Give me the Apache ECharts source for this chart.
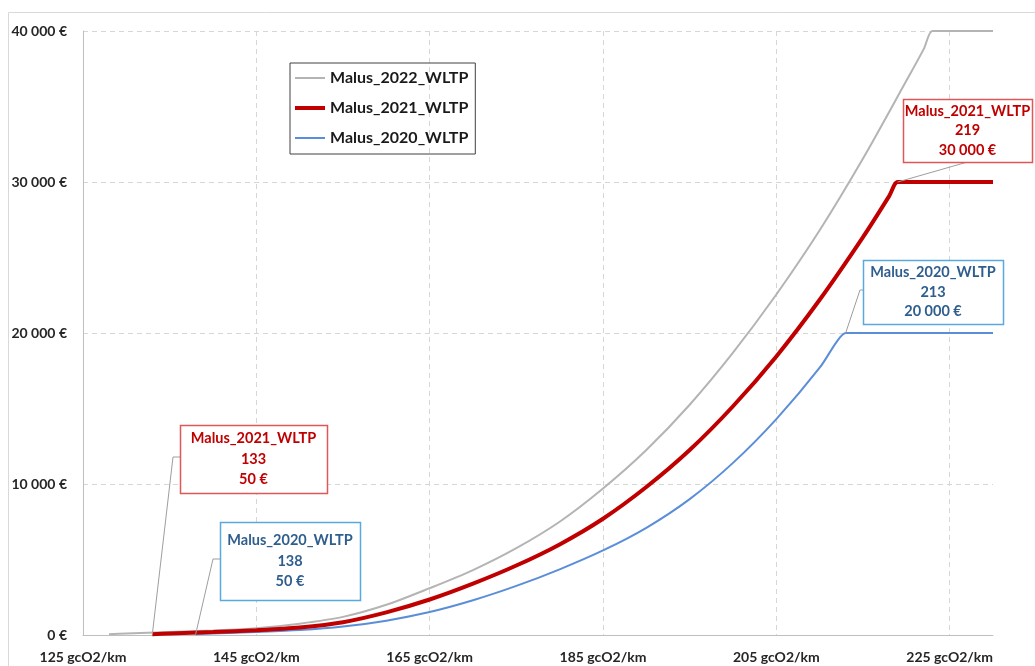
<!DOCTYPE html>
<html>
<head>
<meta charset="utf-8">
<script src="https://cdn.jsdelivr.net/npm/echarts@6/dist/echarts.min.js"></script>
<style>
  html, body { margin: 0; padding: 0; background: #ffffff; }
  #chart { width: 1035px; height: 666px; }
</style>
</head>
<body>
<div id="chart"></div>
<script>
// French registration malus grids (WLTP), in euros per gCO2/km
const seriesNames = ['Malus_2022_WLTP', 'Malus_2021_WLTP', 'Malus_2020_WLTP'];

const co2_2022   = [128, 130, 135, 140, 145, 150, 155, 160, 165, 170, 175, 180, 185, 190, 195, 200, 205, 210, 215, 220, 222, 223, 224, 230];
const malus_2022 = [50, 100, 200, 300, 450, 750, 1200, 2000, 3100, 4300, 5750, 7500, 9700, 12250, 15250, 18700, 22550, 26800, 31550, 36700, 38800, 40000, 40000, 40000];

const co2_2021   = [133, 135, 140, 145, 150, 155, 160, 165, 170, 175, 180, 185, 190, 195, 200, 205, 210, 215, 218, 219, 220, 230];
const malus_2021 = [50, 100, 200, 320, 500, 850, 1500, 2350, 3400, 4600, 6000, 7700, 9800, 12250, 15150, 18450, 22200, 26350, 29050, 30000, 30000, 30000];

const co2_2020   = [138, 140, 145, 150, 155, 160, 165, 170, 175, 180, 185, 190, 195, 200, 205, 210, 212, 213, 214, 230];
const malus_2020 = [50, 100, 200, 330, 560, 950, 1520, 2300, 3250, 4350, 5600, 7100, 9000, 11400, 14300, 17700, 19450, 20000, 20000, 20000];

// Axis ranges and ticks
const co2Min = 125, co2Max = 230, co2Step = 20;
const malusMax = 40000, malusStep = 10000;

// Callouts: series, emission level, malus amount
const calloutSeries = ['Malus_2021_WLTP', 'Malus_2020_WLTP', 'Malus_2021_WLTP', 'Malus_2020_WLTP'];
const calloutCo2    = [133, 138, 219, 213];
const calloutMalus  = [50, 50, 30000, 20000];

const FONT = 'Lato, "Open Sans", sans-serif';
const colors = {
  Malus_2022_WLTP: '#b4b4b4',
  Malus_2021_WLTP: '#c00000',
  Malus_2020_WLTP: '#5b8ed8'
};
const widths = { Malus_2022_WLTP: 2, Malus_2021_WLTP: 4, Malus_2020_WLTP: 2 };
const calloutStyle = {
  Malus_2021_WLTP: { text: '#c00000', border: '#e0575a' },
  Malus_2020_WLTP: { text: '#2f5e8e', border: '#5aa8e0' }
};

function euro(v) {
  return String(v).replace(/\B(?=(\d{3})+(?!\d))/g, ' ') + ' €';
}
function zip(xs, ys) { return xs.map((x, i) => [x, ys[i]]); }

const chart = echarts.init(document.getElementById('chart'), null, { renderer: 'canvas' });

const dataSets = {
  Malus_2022_WLTP: zip(co2_2022, malus_2022),
  Malus_2021_WLTP: zip(co2_2021, malus_2021),
  Malus_2020_WLTP: zip(co2_2020, malus_2020)
};

chart.setOption({
  animation: false,
  backgroundColor: '#ffffff',
  textStyle: { fontFamily: FONT },
  grid: { left: 83, right: 42, top: 31, bottom: 31 },
  legend: {
    orient: 'vertical',
    left: 290,
    top: 63,
    padding: [7, 7, 8, 5],
    itemGap: 14,
    itemWidth: 30,
    itemHeight: 18,
    borderColor: '#404040',
    borderWidth: 1,
    textStyle: { fontFamily: FONT, fontWeight: 'bold', fontSize: 16, color: '#1a1a1a' },
    data: seriesNames.map(n => ({
      name: n,
      icon: widths[n] > 2 ? 'path://M0,0H30V4H0Z' : 'path://M0,0H30V2H0Z'
    }))
  },
  xAxis: {
    type: 'value',
    min: co2Min,
    max: co2Max,
    interval: co2Step,
    axisLine: { show: true, lineStyle: { color: '#bfbfbf', width: 1 } },
    axisTick: { show: false },
    axisLabel: {
      formatter: v => v + ' gcO2/km',
      showMaxLabel: false,
      margin: 15,
      color: '#262626',
      fontFamily: FONT,
      fontWeight: 'bold',
      fontSize: 14
    },
    splitLine: {
      show: true,
      showMinLine: false,
      showMaxLine: false,
      lineStyle: { type: [5, 4], color: '#d6d6d6', width: 1 }
    }
  },
  yAxis: {
    type: 'value',
    min: 0,
    max: malusMax,
    interval: malusStep,
    axisLine: { show: true, lineStyle: { color: '#bfbfbf', width: 1 } },
    axisTick: { show: false },
    axisLabel: {
      formatter: euro,
      margin: 16,
      color: '#262626',
      fontFamily: FONT,
      fontWeight: 'bold',
      fontSize: 14
    },
    splitLine: {
      show: true,
      showMinLine: false,
      lineStyle: { type: [5, 4], color: '#d6d6d6', width: 1 }
    }
  },
  series: seriesNames.map(n => ({
    name: n,
    type: 'line',
    data: dataSets[n],
    symbol: 'none',
    smooth: 0.3,
    itemStyle: { color: colors[n] },
    lineStyle: { color: colors[n], width: widths[n] },
    z: n === 'Malus_2021_WLTP' ? 3 : 2
  }))
});

// Callout boxes with leader lines to the labelled points
const boxes = [
  { x: 180, y: 425, w: 147, h: 68, elbow: 7 },
  { x: 220, y: 522, w: 140, h: 78, elbow: 7 },
  { x: 903, y: 99,  w: 129, h: 63, elbow: 0 },
  { x: 863, y: 260, w: 140, h: 64, elbow: 3 }
];

const graphics = [
  {
    type: 'rect',
    shape: { x: 8.5, y: 12.5, width: 1100, height: 700 },
    style: { fill: 'none', stroke: '#d9d9d9', lineWidth: 1 },
    silent: true,
    z: -10
  }
];

calloutSeries.forEach((name, i) => {
  const b = boxes[i];
  const p = chart.convertToPixel({ gridIndex: 0 }, [calloutCo2[i], calloutMalus[i]]);
  const st = calloutStyle[name];
  let pts;
  if (b.elbow > 0) {
    const my = b.y + b.h / 2 - 2;
    pts = [[b.x, my], [b.x - b.elbow, my], p];
  } else {
    pts = [[b.x + b.w / 2, b.y + b.h], p];
  }
  graphics.push({
    type: 'polyline',
    shape: { points: pts },
    style: { stroke: '#9e9e9e', lineWidth: 1, fill: 'none' },
    silent: true,
    z: 5
  });
  graphics.push({
    type: 'rect',
    shape: { x: b.x + 0.5, y: b.y + 0.5, width: b.w, height: b.h },
    style: { fill: '#ffffff', stroke: st.border, lineWidth: 1.5 },
    silent: true,
    z: 6
  });
  graphics.push({
    type: 'text',
    x: b.x + b.w / 2,
    y: b.y + b.h / 2,
    style: {
      text: name + '\n' + calloutCo2[i] + '\n' + euro(calloutMalus[i]),
      fill: st.text,
      font: 'bold 14.5px ' + FONT,
      align: 'center',
      verticalAlign: 'middle',
      lineHeight: b.h > 66 ? 20.5 : 19.5
    },
    silent: true,
    z: 7
  });
});

chart.setOption({ graphic: graphics });
</script>
</body>
</html>
